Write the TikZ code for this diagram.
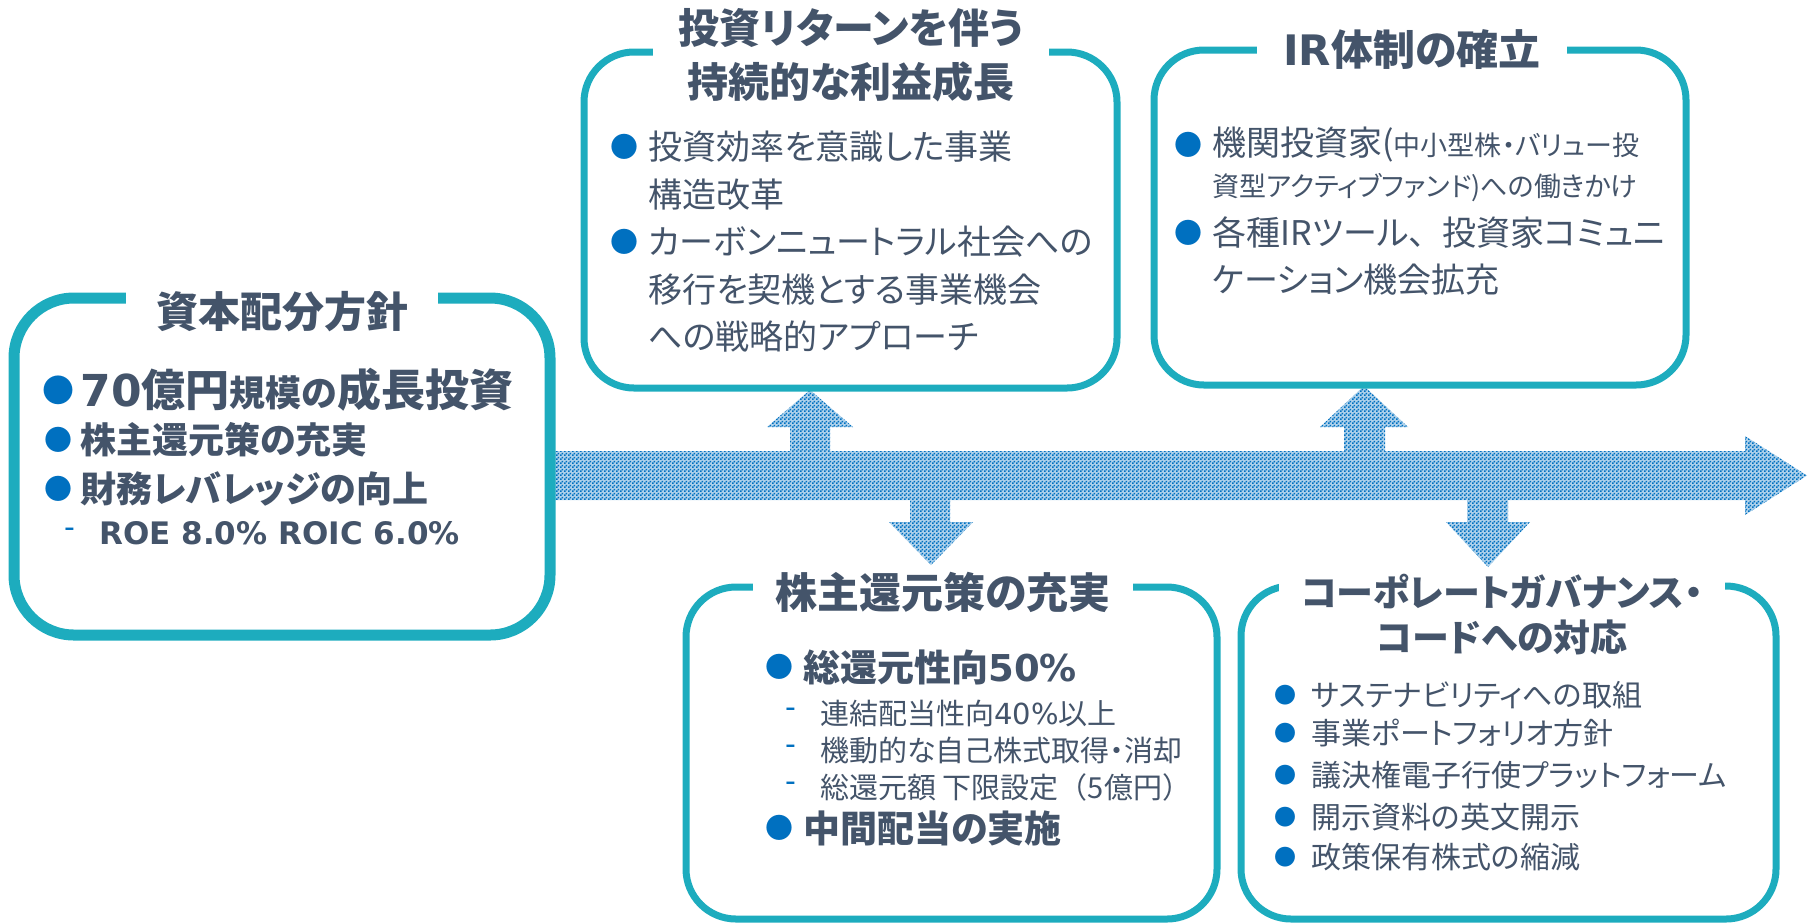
\documentclass[tikz,border=0pt]{standalone}
\usepackage{fontspec}
\setmainfont{Noto Sans CJK JP}[RawFeature=+palt]
\newfontfamily\cjkfull{Noto Sans CJK JP}
\newfontfamily\dv{DejaVu Sans}
\usetikzlibrary{patterns.meta}
\definecolor{txt}{HTML}{44546A}
\definecolor{bul}{HTML}{0070C0}
\definecolor{boxc}{HTML}{1DACBE}
\tikzdeclarepattern{
  name=chk,
  type=uncolored,
  bottom left={(0pt,0pt)},
  top right={(2pt,2pt)},
  tile size={(2pt,2pt)},
  code={\fill (0pt,0pt) rectangle (1pt,1pt); \fill (1pt,1pt) rectangle (2pt,2pt);}
}
\newcommand\fs[2]{\fontsize{#1pt}{#2pt}\selectfont}
\begin{document}
\begin{tikzpicture}[x=0.5pt,y=-0.5pt,
  box/.style={draw=boxc, line width=3.5pt, rounded corners=25pt, fill=white},
  bigbox/.style={box, line width=5.5pt, rounded corners=30pt},
  ttl/.style={fill=white, text=txt, font=\bfseries\fs{21}{27}, align=center, inner ysep=1pt, inner xsep=13pt},
  ln/.style={anchor=west, text=txt, inner sep=0pt, font=\fs{17}{20}},
  blt/.style={text=bul, inner sep=0pt, font=\fs{14}{14}},
  dsh/.style={text=bul, inner sep=0pt, font=\dv\fs{15}{15}},
  arr/.style={preaction={fill=bul!32}, pattern=chk, pattern color=bul}]
\useasboundingbox (0,0) rectangle (1814,923);
% arrows
\fill[arr] (553,451) -- (1745,451) -- (1745,436) -- (1807,475.5) -- (1745,515) -- (1745,500) -- (553,500) -- cycle;
\fill[arr] (790,451) -- (790,427) -- (767,427) -- (810,390) -- (853,427) -- (830,427) -- (830,451) -- cycle;
\fill[arr] (1344,451) -- (1344,427) -- (1320,427) -- (1364,386) -- (1408,427) -- (1385,427) -- (1385,451) -- cycle;
\fill[arr] (910,500) -- (910,522) -- (889,522) -- (931,565) -- (973,522) -- (950,522) -- (950,500) -- cycle;
\fill[arr] (1467,500) -- (1467,522) -- (1446,522) -- (1488,567) -- (1530,522) -- (1508,522) -- (1508,500) -- cycle;
% boxes
\draw[bigbox] (14,298) rectangle (550,635);
\draw[box] (584,52) rectangle (1117,388);
\draw[box] (1154,50) rectangle (1686,385);
\draw[box] (686,587) rectangle (1217,919);
\draw[box] (1241,586) rectangle (1776,919);
% left box
\node[ttl, inner xsep=15pt] (t1) at (282,312) {資本配分方針};
\node[blt, font=\fs{16}{16}] (b11) at (58,390) {●};
\node[ln, font=\bfseries] (l11) at (80,390) {\fs{22}{24}{\dv 70}億円\fs{18}{24}規模の\fs{22}{24}成長投資};
\node[blt] (b12) at (58,440) {●};
\node[ln, font=\bfseries\fs{18}{20}] (l12) at (80,440) {株主還元策の充実};
\node[blt] (b13) at (58,489) {●};
\node[ln, font=\bfseries\fs{18}{20}] (l13) at (80,489) {財務レバレッジの向上};
\node[dsh] (d11) at (70,533) {-};
\node[ln, font=\dv\bfseries\fs{15.5}{17}] (l14) at (99,533) {ROE 8.0\% ROIC 6.0\%};
% top middle
\node[ttl, font=\bfseries\fs{20.5}{27}] (t2) at (851,55) {投資リターンを伴う\\持続的な利益成長};
\node[blt] (b21) at (624,147) {●};
\node[ln] (l21) at (648,147) {投資効率を意識した事業};
\node[ln] (l22) at (648,195) {構造改革};
\node[blt] (b22) at (624,242) {●};
\node[ln] (l23) at (648,242) {カーボンニュートラル社会への};
\node[ln] (l24) at (648,290) {移行を契機とする事業機会};
\node[ln] (l25) at (648,337) {への戦略的アプローチ};
% top right
\node[ttl] (t3) at (1412,50) {{\dv IR}体制の確立};
\node[blt] (b31) at (1188,145) {●};
\node[ln] (l31) at (1212,145) {機関投資家({\fs{13.5}{15}中小型株・バリュー投}};
\node[ln, font=\fs{13.5}{15}] (l32) at (1212,188) {資型アクティブファンド)への働きかけ};
\node[blt] (b32) at (1188,233) {●};
\node[ln] (l33) at (1212,233) {各種IRツール{\cjkfull 、}投資家コミュニ};
\node[ln] (l34) at (1212,280) {ケーション機会拡充};
% bottom middle
\node[ttl, inner xsep=11pt] (t4) at (943,592) {株主還元策の充実};
\node[blt] (b41) at (779,667) {●};
\node[ln, font=\bfseries\fs{18.5}{20}] (l41) at (803,667) {総還元性向{\dv 50\%}};
\node[dsh] (d41) at (791,713) {-};
\node[ln, font=\fs{14.5}{16}] (l42) at (820,713) {連結配当性向{\dv 40\%}以上};
\node[dsh] (d42) at (791,750) {-};
\node[ln, font=\fs{14.5}{16}] (l43) at (820,750) {機動的な自己株式取得・消却};
\node[dsh] (d43) at (791,787) {-};
\node[ln, font=\fs{14.5}{16}] (l44) at (820,787) {総還元額 下限設定{\cjkfull （}5億円{\cjkfull ）}};
\node[blt] (b42) at (779,828) {●};
\node[ln, font=\bfseries\fs{18.5}{20}] (l45) at (803,828) {中間配当の実施};
% bottom right
\node[ttl, font=\bfseries\fs{18.5}{22.5}, inner xsep=11pt] (t5) at (1502,615) {コーポレートガバナンス・\\コードへの対応};
\node[blt, font=\fs{11}{11}] (b51) at (1285,695) {●};
\node[ln, font=\fs{15}{18}] (l51) at (1311,695) {サステナビリティへの取組};
\node[blt, font=\fs{11}{11}] (b52) at (1285,733) {●};
\node[ln, font=\fs{15}{18}] (l52) at (1311,733) {事業ポートフォリオ方針};
\node[blt, font=\fs{11}{11}] (b53) at (1285,775) {●};
\node[ln, font=\fs{15}{18}] (l53) at (1311,775) {議決権電子行使プラットフォーム};
\node[blt, font=\fs{11}{11}] (b54) at (1285,817) {●};
\node[ln, font=\fs{15}{18}] (l54) at (1311,817) {開示資料の英文開示};
\node[blt, font=\fs{11}{11}] (b55) at (1285,857) {●};
\node[ln, font=\fs{15}{18}] (l55) at (1311,857) {政策保有株式の縮減};
\end{tikzpicture}
\end{document}
